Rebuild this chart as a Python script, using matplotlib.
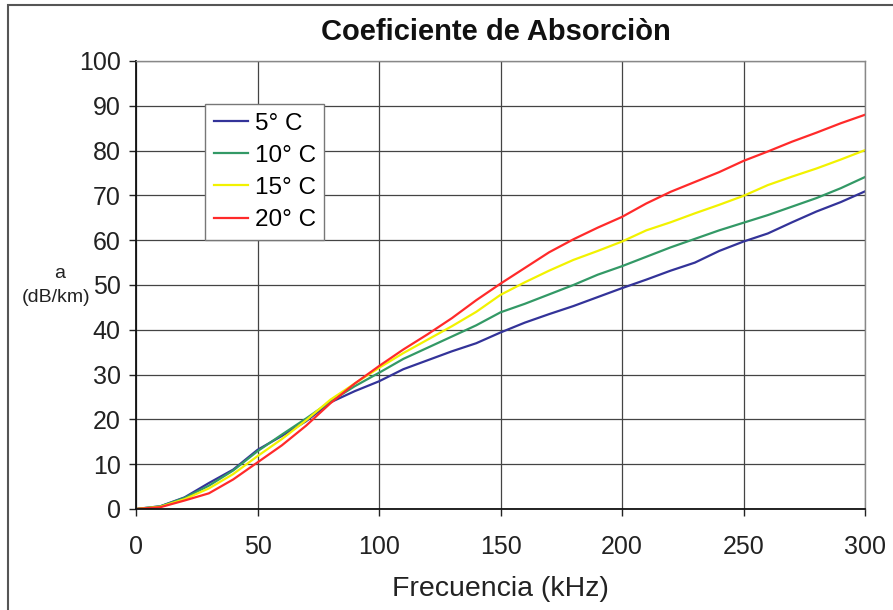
import matplotlib
matplotlib.use("Agg")
import matplotlib.pyplot as plt
from matplotlib.patches import Rectangle

plt.rcParams['font.family'] = ['Liberation Sans', 'DejaVu Sans']

freq_khz = [0, 10, 20, 30, 40, 50, 60, 70, 80, 90, 100, 110, 120, 130, 140, 150,
            160, 170, 180, 190, 200, 210, 220, 230, 240, 250, 260, 270, 280, 290, 300]

temp_5 = [0, 0.6, 2.6, 5.8, 8.8, 13.2, 16.3, 19.6, 23.8, 26.3, 28.5, 31.2, 33.2, 35.2,
          37.0, 39.4, 41.6, 43.5, 45.3, 47.3, 49.3, 51.2, 53.2, 55.0, 57.6, 59.7,
          61.5, 64.0, 66.4, 68.5, 70.9]
temp_10 = [0, 0.6, 2.5, 5.2, 8.6, 12.9, 16.6, 20.2, 24.0, 27.4, 30.4, 33.5, 36.0, 38.5,
           41.0, 43.9, 45.8, 47.9, 50.0, 52.3, 54.2, 56.3, 58.4, 60.3, 62.2, 63.9,
           65.6, 67.5, 69.4, 71.6, 74.1]
temp_15 = [0, 0.5, 2.2, 4.6, 7.8, 11.8, 15.6, 19.8, 24.4, 28.0, 31.5, 34.8, 37.8, 40.8,
           44.0, 47.8, 50.6, 53.2, 55.6, 57.6, 59.7, 62.2, 64.0, 66.0, 67.9, 69.9,
           72.3, 74.2, 76.0, 78.0, 80.1]
temp_20 = [0, 0.4, 1.9, 3.5, 6.6, 10.4, 14.2, 18.6, 23.6, 28.0, 31.9, 35.6, 39.0, 42.6,
           46.6, 50.3, 53.8, 57.3, 60.2, 62.8, 65.2, 68.2, 70.8, 73.0, 75.2, 77.7,
           79.8, 82.0, 84.0, 86.1, 88.0]

series = [
    ("5° C", temp_5, "#333399"),
    ("10° C", temp_10, "#339966"),
    ("15° C", temp_15, "#f2f200"),
    ("20° C", temp_20, "#ff2a2a"),
]

fig = plt.figure(figsize=(8.93, 6.10), dpi=100)
ax = fig.add_axes([136 / 893, 1 - 509 / 610, 729 / 893, 448 / 610])

for label, vals, color in series:
    ax.plot(freq_khz, vals, color=color, linewidth=1.6, label=label)

ax.set_xlim(0, 300)
ax.set_ylim(0, 100)
ax.set_xticks(range(0, 301, 50))
ax.set_yticks(range(0, 101, 10))
ax.grid(True, color="#444444", linewidth=0.9)
ax.set_axisbelow(True)
ax.tick_params(labelsize=18, length=5, width=1, colors="#222222")
ax.tick_params(axis="y", pad=6)
ax.tick_params(axis="x", pad=14)

for side in ["left", "bottom"]:
    ax.spines[side].set_color("#111111")
    ax.spines[side].set_linewidth(1.3)
for side in ["top", "right"]:
    ax.spines[side].set_color("#888888")
    ax.spines[side].set_linewidth(1.0)

ax.set_xlabel("Frecuencia (kHz)", fontsize=20.5, color="#222222", labelpad=12)
fig.text(60 / 893, 1 - 274 / 610, "a", fontsize=14, ha="center", va="center", color="#222222")
fig.text(56 / 893, 1 - 298 / 610, "(dB/km)", fontsize=14, ha="center", va="center", color="#222222")

fig.text(496 / 893, 1 - 32 / 610, "Coeficiente de Absorciòn", fontsize=21,
         fontweight="bold", ha="center", va="center", color="#111111")

leg = ax.legend(loc="upper left", bbox_to_anchor=((205 - 136) / 729, (509 - 104) / 448),
                borderaxespad=0, fontsize=17.5, handlelength=1.4, handletextpad=0.3,
                labelspacing=0.42, borderpad=0.35, fancybox=False, framealpha=1)
leg.get_frame().set_edgecolor("#777777")
leg.get_frame().set_linewidth(1.0)

# outer frame of the original picture (only left and top edges visible)
fig.patches.append(Rectangle((8 / 893, -0.1), 1.2, 1 - 5 / 610 + 0.1,
                             transform=fig.transFigure, fill=False,
                             edgecolor="#555555", linewidth=1.5))

fig.savefig("out.png", dpi=100)
